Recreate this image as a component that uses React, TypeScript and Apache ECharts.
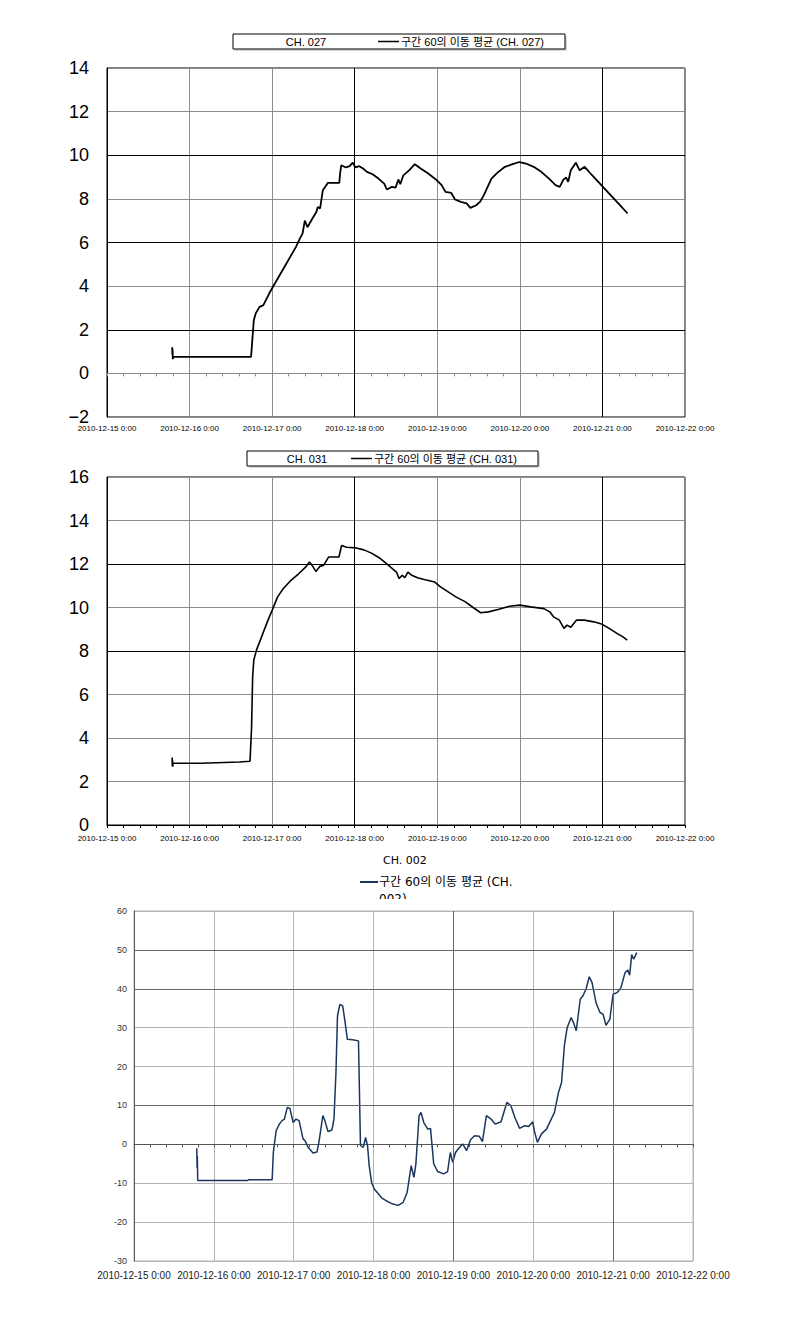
import React, { useEffect, useRef } from 'react';
import * as echarts from 'echarts';

// x axis: days since 2010-12-15 0:00
const xTickLabels = [
  '2010-12-15 0:00', '2010-12-16 0:00', '2010-12-17 0:00', '2010-12-18 0:00',
  '2010-12-19 0:00', '2010-12-20 0:00', '2010-12-21 0:00', '2010-12-22 0:00',
];

const legend027 = ['CH. 027', '구간 60의 이동 평균 (CH. 027)'];
const legend031 = ['CH. 031', '구간 60의 이동 평균 (CH. 031)'];
const legend002 = ['CH. 002', '구간 60의 이동 평균 (CH.', '002)'];

// CH. 027 moving average [day, value]
const ch027: [number, number][] = [
  [0.790, 1.2], [0.792, 0.85], [0.794, 1.1], [0.797, 0.65], [0.800, 0.76], [1.745, 0.76],
  [1.778, 2.44], [1.801, 2.75], [1.848, 3.05], [1.894, 3.13], [1.964, 3.66], [2.010, 3.97],
  [2.080, 4.43], [2.150, 4.89], [2.219, 5.34], [2.289, 5.80], [2.335, 6.18], [2.368, 6.41],
  [2.396, 7.0], [2.428, 6.7], [2.475, 7.02], [2.535, 7.4], [2.553, 7.63], [2.581, 7.56],
  [2.614, 8.4], [2.674, 8.73], [2.813, 8.73], [2.823, 9.16], [2.837, 9.54], [2.892, 9.44],
  [2.939, 9.5], [2.976, 9.66], [3.008, 9.44], [3.055, 9.5], [3.101, 9.39], [3.148, 9.24],
  [3.217, 9.13], [3.287, 8.93], [3.357, 8.7], [3.389, 8.43], [3.450, 8.55], [3.496, 8.52],
  [3.528, 8.89], [3.552, 8.67], [3.589, 9.08], [3.658, 9.31], [3.728, 9.59], [3.798, 9.39],
  [3.890, 9.16], [3.983, 8.89], [4.053, 8.63], [4.099, 8.32], [4.169, 8.27], [4.215, 7.97],
  [4.285, 7.86], [4.355, 7.79], [4.401, 7.59], [4.471, 7.71], [4.517, 7.86], [4.564, 8.17],
  [4.610, 8.55], [4.656, 8.93], [4.726, 9.19], [4.819, 9.47], [4.912, 9.59], [4.995, 9.69],
  [5.074, 9.62], [5.167, 9.47], [5.260, 9.24], [5.353, 8.93], [5.432, 8.63], [5.483, 8.55],
  [5.529, 8.89], [5.562, 8.98], [5.585, 8.78], [5.617, 9.31], [5.678, 9.66], [5.724, 9.31],
  [5.785, 9.47], [5.863, 9.13], [5.933, 8.85], [6.026, 8.47], [6.119, 8.09], [6.212, 7.71],
  [6.305, 7.33],
];

// CH. 031 moving average [day, value]
const ch031: [number, number][] = [
  [0.789, 3.1], [0.791, 2.7], [0.793, 3.0], [0.796, 2.68], [0.800, 2.84], [1.137, 2.84],
  [1.602, 2.9], [1.732, 2.93], [1.750, 4.39], [1.764, 6.83], [1.778, 7.59], [1.811, 8.05],
  [1.857, 8.5], [1.903, 8.96], [1.950, 9.42], [2.001, 9.88], [2.066, 10.49], [2.136, 10.87],
  [2.228, 11.25], [2.321, 11.55], [2.414, 11.89], [2.451, 12.09], [2.484, 11.94], [2.530, 11.66],
  [2.577, 11.89], [2.623, 11.94], [2.683, 12.32], [2.809, 12.32], [2.841, 12.85], [2.902, 12.77],
  [3.018, 12.74], [3.111, 12.65], [3.203, 12.5], [3.296, 12.29], [3.389, 12.01], [3.459, 11.78],
  [3.505, 11.63], [3.538, 11.33], [3.575, 11.48], [3.607, 11.37], [3.644, 11.63], [3.691, 11.48],
  [3.760, 11.37], [3.853, 11.28], [3.969, 11.17], [4.039, 10.95], [4.132, 10.72], [4.225, 10.49],
  [4.341, 10.26], [4.434, 10.0], [4.526, 9.76], [4.619, 9.8], [4.735, 9.91], [4.875, 10.06],
  [5.000, 10.11], [5.130, 10.03], [5.292, 9.95], [5.362, 9.8], [5.408, 9.57], [5.478, 9.42],
  [5.534, 9.04], [5.571, 9.19], [5.617, 9.09], [5.687, 9.42], [5.780, 9.42], [5.896, 9.34],
  [5.989, 9.24], [6.082, 9.04], [6.175, 8.81], [6.244, 8.66], [6.300, 8.5],
];

// CH. 002 moving average [day, value]
const ch002: [number, number][] = [
  [0.786, -1.0], [0.790, -6], [0.793, -3], [0.798, -9.3], [1.423, -9.3], [1.433, -9.1],
  [1.730, -9.1], [1.745, -2], [1.780, 3.5], [1.820, 5.2], [1.854, 6.1], [1.884, 6.5],
  [1.919, 9.5], [1.953, 9.2], [1.993, 5.6], [2.028, 6.5], [2.067, 6.1], [2.117, 1.4],
  [2.142, 0.9], [2.181, -0.8], [2.216, -1.6], [2.241, -2.2], [2.291, -2], [2.315, 0.5],
  [2.340, 3.9], [2.365, 7.4], [2.390, 6.1], [2.429, 3.3], [2.479, 3.7], [2.504, 6.5],
  [2.529, 18.5], [2.548, 33], [2.578, 36], [2.613, 35.6], [2.638, 32.2], [2.672, 27],
  [2.737, 26.9], [2.811, 26.6], [2.821, 15.9], [2.836, -0.3], [2.871, -0.8], [2.900, 1.8],
  [2.925, -0.5], [2.945, -5.5], [2.975, -9.8], [3.009, -11.5], [3.059, -12.7], [3.109, -13.9],
  [3.158, -14.5], [3.233, -15.3], [3.307, -15.7], [3.371, -14.9], [3.421, -12.3], [3.471, -5.5],
  [3.505, -8.5], [3.530, -5], [3.570, 7.4], [3.594, 8.2], [3.629, 5.6], [3.679, 3.9],
  [3.713, 4.1], [3.753, -5], [3.803, -7], [3.877, -7.6], [3.927, -7], [3.961, -2.1],
  [3.991, -4.6], [4.026, -2.1], [4.075, -0.8], [4.115, 0.1], [4.165, -1.6], [4.214, 1.2],
  [4.264, 2.2], [4.323, 2.1], [4.363, 0.7], [4.413, 7.4], [4.472, 6.5], [4.522, 5.2],
  [4.596, 5.8], [4.670, 10.8], [4.720, 9.9], [4.769, 6.9], [4.829, 4.1], [4.893, 4.8],
  [4.943, 4.6], [4.993, 5.8], [5.017, 3.1], [5.052, 0.5], [5.102, 2.7], [5.166, 3.9],
  [5.216, 6.1], [5.265, 8.2], [5.315, 13.3], [5.354, 15.9], [5.389, 25.3], [5.424, 30],
  [5.474, 32.6], [5.503, 31.3], [5.538, 29.2], [5.588, 37.3], [5.622, 38.2], [5.662, 40],
  [5.701, 43.1], [5.736, 41.6], [5.786, 36.4], [5.835, 33.9], [5.875, 33.4], [5.910, 30.6],
  [5.959, 32.2], [5.999, 38.6], [6.049, 39], [6.098, 40.3], [6.148, 44.1], [6.183, 44.8],
  [6.207, 43.5], [6.232, 48.8], [6.257, 47.6], [6.296, 49.3],
];

// darker grid lines
const darkY1 = [2, 6, 10];
const darkY2 = [8, 12];
const darkY3 = [10, 40, 50];
const darkX12 = [3, 6];
const darkX3 = [4, 6];

const SANS = "'Liberation Sans', Arial, 'Noto Sans CJK KR', sans-serif";
const WIDE = "'DejaVu Sans', 'Noto Sans CJK KR', sans-serif";
const NAVY = '#1b365d';

function mainX(gridIndex: number, fontSize: number, margin: number, color: string, gridColor: string) {
  return {
    type: 'value', gridIndex, min: 0, max: 7, interval: 1, position: 'bottom',
    axisLine: { show: false, onZero: false },
    axisTick: { show: false },
    axisLabel: {
      fontSize, margin, color, fontFamily: SANS,
      formatter: (v: number) => xTickLabels[Math.round(v)] ?? '',
    },
    splitLine: { show: true, lineStyle: { color: gridColor, width: 1 } },
  };
}

function zeroX(gridIndex: number, color: string) {
  return {
    type: 'value', gridIndex, min: 0, max: 7, interval: 0.2, position: 'top',
    axisLine: { show: true, onZero: true, lineStyle: { color, width: 1 } },
    axisTick: { show: true, inside: true, length: 3, lineStyle: { color, width: 1 } },
    axisLabel: { show: false },
    splitLine: { show: false },
  };
}

function darkLines(ys: number[], xs: number[], color: string) {
  return {
    silent: true, symbol: 'none', label: { show: false },
    lineStyle: { color, width: 1, type: 'solid' },
    emphasis: { disabled: true },
    data: [...ys.map((v) => ({ yAxis: v })), ...xs.map((v) => ({ xAxis: v }))],
  };
}

function boxLegend(x: number, y: number, w: number, cx: number, lx: number, labels: string[]) {
  const cy = y + 7.5;
  return [
    { type: 'rect', shape: { x: x + 2, y: y + 2, width: w, height: 15 }, style: { fill: '#d8d8d8' }, z: 10 },
    { type: 'rect', shape: { x, y, width: w, height: 15 }, style: { fill: '#fff', stroke: '#000', lineWidth: 1 }, z: 11 },
    { type: 'text', x: cx, y: cy, style: { text: labels[0], fontSize: 11, fontFamily: SANS, fill: '#000', align: 'center', verticalAlign: 'middle' }, z: 12 },
    { type: 'line', shape: { x1: lx, y1: cy, x2: lx + 21, y2: cy }, style: { stroke: '#000', lineWidth: 1.5 }, z: 12 },
    { type: 'text', x: lx + 23, y: cy, style: { text: labels[1], fontSize: 11, fontFamily: SANS, fill: '#000', align: 'left', verticalAlign: 'middle' }, z: 12 },
  ];
}

export default function App() {
  const ref = useRef<HTMLDivElement>(null);
  useEffect(() => {
    if (!ref.current) return;
    const chart = echarts.init(ref.current, null, { renderer: 'svg' });
    const option: any = {
      animation: false,
      backgroundColor: '#fff',
      grid: [
        { left: 107, top: 68, width: 578, height: 349, show: true, borderColor: '#000', borderWidth: 1, backgroundColor: '#fff' },
        { left: 107, top: 477, width: 578, height: 348, show: true, borderColor: '#000', borderWidth: 1, backgroundColor: '#fff' },
        { left: 134, top: 911, width: 559, height: 350, show: true, borderColor: '#b4b4b4', borderWidth: 1, backgroundColor: '#fff' },
      ],
      xAxis: [
        mainX(0, 8, 7, '#000', '#8c8c8c'),
        zeroX(0, '#8c8c8c'),
        mainX(1, 8, 9, '#000', '#8c8c8c'),
        zeroX(1, '#000'),
        mainX(2, 10, 9, '#222', '#b4b4b4'),
        zeroX(2, '#555'),
      ],
      yAxis: [
        {
          type: 'value', gridIndex: 0, min: -2, max: 14, interval: 2,
          axisLine: { show: true, lineStyle: { color: '#000' } }, axisTick: { show: false },
          axisLabel: { fontSize: 18, margin: 18, color: '#000', fontFamily: SANS, formatter: (v: number) => (v < 0 ? '\u2212' + Math.abs(v) : String(v)) },
          splitLine: { show: true, lineStyle: { color: '#8c8c8c' } },
        },
        {
          type: 'value', gridIndex: 1, min: 0, max: 16, interval: 2,
          axisLine: { show: true, lineStyle: { color: '#000' } }, axisTick: { show: false },
          axisLabel: { fontSize: 18, margin: 18, color: '#000', fontFamily: SANS },
          splitLine: { show: true, lineStyle: { color: '#8c8c8c' } },
        },
        {
          type: 'value', gridIndex: 2, min: -30, max: 60, interval: 10,
          axisLine: { show: true, lineStyle: { color: '#555' } }, axisTick: { show: false },
          axisLabel: { fontSize: 9, margin: 7, color: '#333', fontFamily: SANS },
          splitLine: { show: true, lineStyle: { color: '#b4b4b4' } },
        },
      ],
      series: [
        {
          type: 'line', xAxisIndex: 0, yAxisIndex: 0, data: ch027, symbol: 'none', showSymbol: false,
          lineStyle: { color: '#000', width: 1.8 }, z: 3,
          markLine: darkLines(darkY1, darkX12, '#000'),
        },
        {
          type: 'line', xAxisIndex: 2, yAxisIndex: 1, data: ch031, symbol: 'none', showSymbol: false,
          lineStyle: { color: '#000', width: 1.6 }, z: 3,
          markLine: darkLines(darkY2, darkX12, '#000'),
        },
        {
          type: 'line', xAxisIndex: 4, yAxisIndex: 2, data: ch002, symbol: 'none', showSymbol: false,
          lineStyle: { color: NAVY, width: 1.5 }, z: 3,
          markLine: darkLines(darkY3, darkX3, '#666'),
        },
      ],
      graphic: [
        ...boxLegend(233, 34, 332, 306, 378, legend027),
        ...boxLegend(247, 451, 291, 307, 351, legend031),
        { type: 'text', x: 383, y: 860, style: { text: legend002[0], fontSize: 11, fontFamily: WIDE, fill: '#000', verticalAlign: 'middle' }, z: 12 },
        { type: 'line', shape: { x1: 360, y1: 882, x2: 378, y2: 882 }, style: { stroke: NAVY, lineWidth: 2 }, z: 12 },
        { type: 'text', x: 379, y: 882, style: { text: legend002[1], fontSize: 12, fontFamily: WIDE, fill: '#000', verticalAlign: 'middle' }, z: 12 },
        { type: 'text', x: 379, y: 899, style: { text: legend002[2], fontSize: 12, fontFamily: WIDE, fill: '#000', verticalAlign: 'middle' }, z: 12 },
        { type: 'rect', shape: { x: 375, y: 899, width: 200, height: 11 }, style: { fill: '#fff' }, z: 13 },
      ],
    };
    chart.setOption(option);
    return () => chart.dispose();
  }, []);
  return <div ref={ref} style={{ position: 'absolute', left: 0, top: 0, width: 788, height: 1317 }} />;
}
